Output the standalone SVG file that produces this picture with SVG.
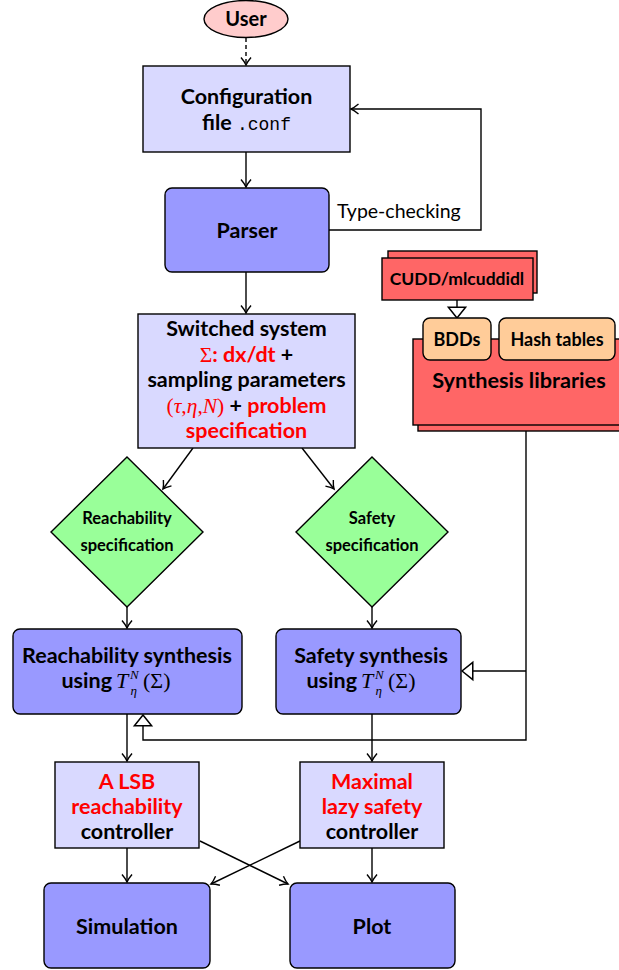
<svg xmlns="http://www.w3.org/2000/svg" width="619" height="970" viewBox="0 0 619 970">
<style>
.t{font-family:Lato,"Liberation Sans",sans-serif;font-weight:bold;font-size:21.5px;fill:#000;text-anchor:middle}
.s{font-size:16.5px}
.red{fill:#ff0000}
.m{font-family:"Liberation Serif","DejaVu Serif",serif;font-weight:normal;fill:#000}
.mi{font-family:"Liberation Serif","DejaVu Serif",serif;font-weight:normal;font-style:italic;fill:#000}
.en{text-anchor:end}
.box{stroke:#000;stroke-width:1.4}
.l{fill:#d9d9ff}
.b{fill:#9999ff}
.g{fill:#99ff99}
.r{fill:#ff6666}
.p{fill:#ffcc99}
.c{fill:none;stroke:#000;stroke-width:1.4}
</style>
<defs>
<marker id="a" markerUnits="userSpaceOnUse" markerWidth="12" markerHeight="12" viewBox="-9 -6 10 12" refX="0" refY="0" orient="auto" overflow="visible">
<path d="M-7.5,-5 Q-3,-1.2 0,0 Q-3,1.2 -7.5,5" fill="none" stroke="#000" stroke-width="1.4"/>
</marker>
<marker id="o" markerUnits="userSpaceOnUse" markerWidth="14" markerHeight="20" viewBox="-12 -9 13 18" refX="0" refY="0" orient="auto" overflow="visible">
<path d="M0,0 L-10,-8 L-10,8 Z" fill="#fff" stroke="#000" stroke-width="1.4"/>
</marker>
</defs>

<g id="connectors">
<line class="c" x1="246" y1="38" x2="246" y2="65" stroke-dasharray="4,3" marker-end="url(#a)"/>
<line class="c" x1="246" y1="152" x2="246" y2="187" marker-end="url(#a)"/>
<polyline class="c" points="329,230 481,230 481,109 351,109" marker-end="url(#a)"/>
<line class="c" x1="246" y1="272" x2="246" y2="313" marker-end="url(#a)"/>
<line class="c" x1="193" y1="448" x2="163" y2="489" marker-end="url(#a)"/>
<line class="c" x1="302" y1="448" x2="334" y2="489" marker-end="url(#a)"/>
<line class="c" x1="127" y1="607" x2="127" y2="628" marker-end="url(#a)"/>
<line class="c" x1="372" y1="607" x2="372" y2="628" marker-end="url(#a)"/>
<line class="c" x1="457" y1="300" x2="457" y2="318" marker-end="url(#o)"/>
<polyline class="c" points="526,431 526,740 143,740 143,715" marker-end="url(#o)"/>
<line class="c" x1="526" y1="671" x2="462" y2="671" marker-end="url(#o)"/>
<line class="c" x1="127" y1="714" x2="127" y2="761" marker-end="url(#a)"/>
<line class="c" x1="372" y1="714" x2="372" y2="761" marker-end="url(#a)"/>
<line class="c" x1="127" y1="848" x2="127" y2="882" marker-end="url(#a)"/>
<line class="c" x1="372" y1="848" x2="372" y2="882" marker-end="url(#a)"/>
<line class="c" x1="200" y1="841" x2="288" y2="884" marker-end="url(#a)"/>
<line class="c" x1="300" y1="841" x2="211" y2="884" marker-end="url(#a)"/>
</g>

<g id="user">
<ellipse class="box" cx="246" cy="19" rx="42" ry="18.5" fill="#ffcccc"/>
<text class="t" x="246" y="26" style="font-size:20px">User</text>
</g>

<g id="config">
<rect class="box l" x="143" y="66" width="207" height="86"/>
<text class="t" x="246.5" y="104">Configuration</text>
<text class="t" x="246.5" y="130">file <tspan style="font-family:'Liberation Mono',monospace;font-weight:normal;font-size:18px">.conf</tspan></text>
</g>

<g id="parser">
<rect class="box b" x="165" y="188" width="164" height="84" rx="7"/>
<text class="t" x="247" y="238">Parser</text>
</g>

<g id="typecheck-label">
<text x="337" y="218" font-family="Lato,'Liberation Sans',sans-serif" font-size="19.5">Type-checking</text>
</g>

<g id="switched">
<rect class="box l" x="138" y="314" width="217" height="134"/>
<text class="t" x="246.5" y="336">Switched system</text>
<text class="t" x="246.5" y="362"><tspan class="m" style="fill:#ff0000">Σ</tspan><tspan class="red">: dx/dt</tspan> +</text>
<text class="t" x="246.5" y="387">sampling parameters</text>
<text class="t" x="246.5" y="413"><tspan class="m" style="fill:#ff0000">(</tspan><tspan class="mi" style="fill:#ff0000">τ</tspan><tspan class="m" style="fill:#ff0000">,</tspan><tspan class="mi" style="fill:#ff0000">η</tspan><tspan class="m" style="fill:#ff0000">,</tspan><tspan class="mi" style="fill:#ff0000">N</tspan><tspan class="m" style="fill:#ff0000">)</tspan> + <tspan class="red">problem</tspan></text>
<text class="t red" x="246.5" y="438">specification</text>
</g>

<g id="cudd">
<rect class="box r" x="388" y="251" width="149" height="42"/>
<rect class="box r" x="382" y="258" width="151" height="42"/>
<text class="t" x="457" y="285" style="font-size:17.5px">CUDD/mlcuddidl</text>
</g>

<g id="libraries">
<rect class="box r" x="418" y="345" width="220" height="86"/>
<rect class="box r" x="413" y="339" width="220" height="86"/>
<text class="t" x="519" y="388" style="font-size:21.7px">Synthesis libraries</text>
</g>

<g id="bdds">
<rect class="box p" x="423" y="318" width="68" height="42" rx="7"/>
<text class="t" x="457" y="345.5" style="font-size:18px">BDDs</text>
</g>

<g id="hashtables">
<rect class="box p" x="499" y="318" width="116" height="42" rx="7"/>
<text class="t" x="557" y="345.5" style="font-size:18px">Hash tables</text>
</g>

<g id="reach-spec">
<polygon class="box g" points="127,457 203,532 127,607 51,532"/>
<text class="t s" x="127" y="524">Reachability</text>
<text class="t s" x="127" y="551">specification</text>
</g>

<g id="safety-spec">
<polygon class="box g" points="372,457 448,532 372,607 296,532"/>
<text class="t s" x="372" y="524">Safety</text>
<text class="t s" x="372" y="551">specification</text>
</g>

<g id="reach-synth">
<rect class="box b" x="13" y="629" width="229" height="85" rx="7"/>
<text class="t" x="127" y="663">Reachability synthesis</text>
<text class="t en" x="112" y="688">using</text>
<text class="mi" x="116" y="688" font-size="22">T</text>
<text class="mi" x="130" y="679" font-size="13">N</text>
<text class="mi" x="130.5" y="695" font-size="13">η</text>
<text class="m" x="143" y="688" font-size="22">(Σ)</text>
</g>

<g id="safety-synth">
<rect class="box b" x="276" y="629" width="185" height="85" rx="7"/>
<text class="t" x="371" y="663">Safety synthesis</text>
<text class="t en" x="357" y="688">using</text>
<text class="mi" x="361" y="688" font-size="22">T</text>
<text class="mi" x="375" y="679" font-size="13">N</text>
<text class="mi" x="375.5" y="695" font-size="13">η</text>
<text class="m" x="388" y="688" font-size="22">(Σ)</text>
</g>

<g id="lsb">
<rect class="box l" x="55" y="762" width="144" height="86"/>
<text class="t red" x="127" y="789">A LSB</text>
<text class="t red" x="127" y="814">reachability</text>
<text class="t" x="127" y="839">controller</text>
</g>

<g id="maximal">
<rect class="box l" x="300" y="762" width="144" height="86"/>
<text class="t red" x="372" y="789">Maximal</text>
<text class="t red" x="372" y="814">lazy safety</text>
<text class="t" x="372" y="839">controller</text>
</g>

<g id="simulation">
<rect class="box b" x="44" y="883" width="166" height="85" rx="7"/>
<text class="t" x="127" y="934">Simulation</text>
</g>

<g id="plot">
<rect class="box b" x="290" y="883" width="165" height="85" rx="7"/>
<text class="t" x="372" y="934">Plot</text>
</g>
</svg>
